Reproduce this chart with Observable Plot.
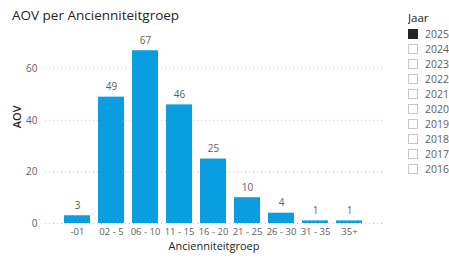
<!DOCTYPE html>
<html>
<head>
<meta charset="utf-8">
<script src="https://cdn.jsdelivr.net/npm/d3@7"></script>
<script src="https://cdn.jsdelivr.net/npm/@observablehq/plot@0.6"></script>
<style>
  html, body { margin: 0; padding: 0; background: #fff; }
  body { width: 449px; height: 258px; position: relative; overflow: hidden; font-family: "Segoe UI", "Open Sans", "Noto Sans", sans-serif; }
  #title { position: absolute; left: 12px; top: 6px; font-size: 13.5px; color: #252423; white-space: nowrap; }
  #chart { position: absolute; left: 0; top: 0; }
  #legend { position: absolute; left: 408px; top: 9px; width: 41px; height: 170px; overflow: hidden; color: #605E5C; }
  #legend .head { font-size: 11.5px; color: #252423; height: 17px; line-height: 17px; }
  #legend .item { height: 15px; display: flex; align-items: center; font-size: 10.5px; }
  #legend .box { width: 8px; height: 8px; border: 1px solid #C8C6C4; margin-right: 7px; box-sizing: content-box; flex: none; }
  #legend .box.on { background: #252423; border-color: #252423; }
</style>
</head>
<body>
<div id="chart"></div>
<div id="title">AOV per Ancienniteitgroep</div>
<div id="legend"></div>
<script>
const categories = ["-01", "02 - 5", "06 - 10", "11 - 15", "16 - 20", "21 - 25", "26 - 30", "31 - 35", "35+"];
const values = [3, 49, 67, 46, 25, 10, 4, 1, 1];
const yTicks = [0, 20, 40, 60];
const legendYears = ["2025", "2024", "2023", "2022", "2021", "2020", "2019", "2018", "2017", "2016"];
const selectedYear = "2025";

const data = categories.map((c, i) => ({cat: c, aov: values[i]}));

const chart = Plot.plot({
  width: 395,
  height: 258,
  marginLeft: 45,
  marginRight: 13,
  marginTop: 42.5,
  marginBottom: 35,
  style: {fontFamily: "'Segoe UI', 'Open Sans', 'Noto Sans', sans-serif", background: "transparent"},
  x: {domain: categories, paddingInner: 0.23, paddingOuter: 0.43},
  y: {domain: [0, 70]},
  marks: [
    Plot.gridY(yTicks, {stroke: "#C8C6C4", strokeOpacity: 1, strokeDasharray: "1,3"}),
    Plot.barY(data, {x: "cat", y: "aov", fill: "#0A9EE0"}),
    Plot.text(data, {x: "cat", y: "aov", text: d => String(d.aov), dy: -10, fill: "#605E5C", fontSize: 10}),
    Plot.axisX({tickSize: 0, tickPadding: 5, fontSize: 9.5, color: "#605E5C", label: null}),
    Plot.axisY(yTicks, {tickSize: 0, tickPadding: 8, fontSize: 10, color: "#605E5C", label: null}),
    Plot.text(["Ancienniteitgroep"], {frameAnchor: "bottom", dy: 26, fontSize: 11, fill: "#252423"}),
    Plot.text(["AOV"], {frameAnchor: "left", dx: -28, dy: -5, rotate: -90, fontSize: 11, fill: "#252423", fontWeight: 600})
  ]
});
document.getElementById("chart").appendChild(chart);

const legend = document.getElementById("legend");
const head = document.createElement("div");
head.className = "head";
head.textContent = "Jaar";
legend.appendChild(head);
for (const y of legendYears) {
  const it = document.createElement("div");
  it.className = "item";
  const b = document.createElement("span");
  b.className = "box" + (y === selectedYear ? " on" : "");
  const t = document.createElement("span");
  t.textContent = y;
  it.appendChild(b);
  it.appendChild(t);
  legend.appendChild(it);
}
// partially visible next item (clipped by the slicer's scroll area)
const more = document.createElement("div");
more.className = "item";
const mb = document.createElement("span");
mb.className = "box";
more.appendChild(mb);
legend.appendChild(more);
</script>
</body>
</html>
